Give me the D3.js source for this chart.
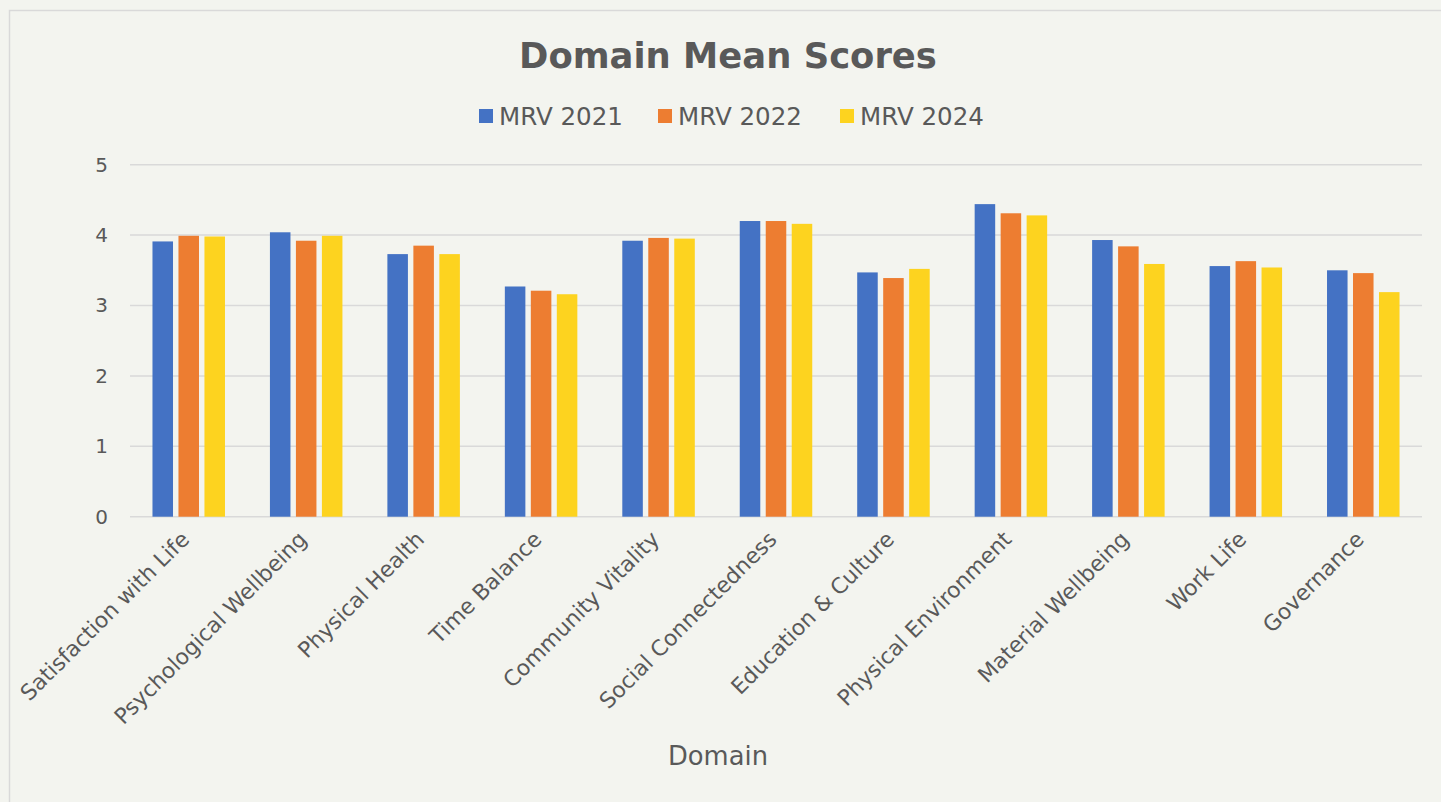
<!DOCTYPE html>
<html>
<head>
<meta charset="utf-8">
<script src="https://cdn.jsdelivr.net/npm/d3@7/dist/d3.min.js"></script>
<style>
  html, body { margin: 0; padding: 0; background: #F3F4EF; }
  svg { display: block; }
  text { font-family: "DejaVu Sans", "Lato", sans-serif; fill: #595959; }
</style>
</head>
<body>
<svg id="chart" width="1441" height="802"></svg>
<script>
const categories = ["Satisfaction with Life", "Psychological Wellbeing", "Physical Health", "Time Balance",
  "Community Vitality", "Social Connectedness", "Education & Culture", "Physical Environment",
  "Material Wellbeing", "Work Life", "Governance"];
const seriesNames = ["MRV 2021", "MRV 2022", "MRV 2024"];
const mrv2021 = [3.91, 4.04, 3.73, 3.27, 3.92, 4.20, 3.47, 4.44, 3.93, 3.56, 3.50];
const mrv2022 = [3.99, 3.92, 3.85, 3.21, 3.96, 4.20, 3.39, 4.31, 3.84, 3.63, 3.46];
const mrv2024 = [3.98, 3.99, 3.73, 3.16, 3.95, 4.16, 3.52, 4.28, 3.59, 3.54, 3.19];
const yTicks = [0, 1, 2, 3, 4, 5];
const colors = ["#4472C4", "#ED7D31", "#FDD31F"];
const titleText = "Domain Mean Scores";
const xAxisTitle = "Domain";

const seriesValues = [mrv2021, mrv2022, mrv2024];
const svg = d3.select("#chart");

// chart border
svg.append("rect").attr("x", 9.5).attr("y", 10.5).attr("width", 1445).attr("height", 800)
  .attr("fill", "none").attr("stroke", "#D9D9D9").attr("stroke-width", 1.5);

const plotLeft = 130, plotRight = 1422, plotTop = 164.7, plotBottom = 516.7;

const x0 = d3.scaleBand().domain(categories).range([plotLeft, plotRight]).padding(0);
const groupW = 72.5;
const x1 = d3.scaleBand().domain(seriesNames).range([0, groupW]).paddingInner(0.21).paddingOuter(0);
const y = d3.scaleLinear().domain([0, 5]).range([plotBottom, plotTop]);

function fit(sel, target) {
  const node = sel.node();
  const fs = parseFloat(sel.attr("font-size"));
  const w = node.getComputedTextLength();
  sel.attr("font-size", (fs * target / w).toFixed(2));
}

// gridlines
svg.append("g").selectAll("line").data(yTicks).join("line")
  .attr("x1", plotLeft).attr("x2", plotRight)
  .attr("y1", d => y(d)).attr("y2", d => y(d))
  .attr("stroke", "#D9D9D9").attr("stroke-width", 1.5);

// y axis labels via d3 axis
const yAxis = svg.append("g").attr("transform", `translate(${plotLeft},0)`)
  .call(d3.axisLeft(y).tickValues(yTicks).tickFormat(d3.format("d")).tickSize(0).tickPadding(22));
yAxis.select(".domain").remove();
yAxis.selectAll("text").attr("font-size", 20).attr("fill", "#595959")
  .style("font-family", '"DejaVu Sans", sans-serif');

// bars
const groups = svg.append("g").selectAll("g").data(categories).join("g")
  .attr("transform", d => `translate(${x0(d) + (x0.bandwidth() - groupW) / 2},0)`);
groups.selectAll("rect").data((d, i) => seriesNames.map((s, j) => ({ s, j, v: seriesValues[j][i] })))
  .join("rect")
  .attr("x", d => x1(d.s))
  .attr("width", x1.bandwidth())
  .attr("y", d => y(d.v))
  .attr("height", d => y(0) - y(d.v))
  .attr("fill", d => colors[d.j]);

// x axis labels
const xAxis = svg.append("g").attr("transform", `translate(0,${plotBottom})`)
  .call(d3.axisBottom(x0).tickSize(0).tickPadding(0));
xAxis.select(".domain").remove();
xAxis.selectAll(".tick text")
  .attr("font-size", 17)
  .attr("text-anchor", "end")
  .attr("dy", 0)
  .attr("transform", "translate(2,24) rotate(-45)")
  .style("font-family", '"DejaVu Sans", sans-serif')
  .attr("fill", "#595959");
{
  const first = xAxis.select(".tick text");
  const w = first.node().getComputedTextLength();
  const fs = 17 * 228 / w;
  xAxis.selectAll(".tick text").attr("font-size", fs.toFixed(2));
}

// title
const t = svg.append("text").attr("x", 728).attr("y", 68).attr("text-anchor", "middle")
  .attr("font-size", 32).attr("font-weight", "bold").text(titleText);
fit(t, 418);

// legend
const legendX = [479, 658, 840];
const lg = svg.append("g").selectAll("g").data(seriesNames).join("g")
  .attr("transform", (d, i) => `translate(${legendX[i]},116)`);
lg.append("rect").attr("x", 0).attr("y", -7).attr("width", 14).attr("height", 14)
  .attr("fill", (d, i) => colors[i]);
lg.append("text").attr("x", 20).attr("y", 0).attr("dy", "0.36em").attr("font-size", 22)
  .text(d => d).each(function () { fit(d3.select(this), 124); });

// x axis title
const xt = svg.append("text").attr("x", 718).attr("y", 765).attr("text-anchor", "middle")
  .attr("font-size", 22).text(xAxisTitle);
fit(xt, 100);
</script>
</body>
</html>
